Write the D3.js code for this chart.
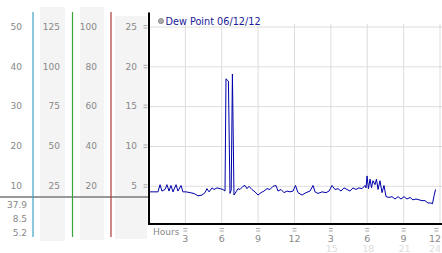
<!DOCTYPE html>
<html>
<head>
<meta charset="utf-8">
<script src="https://cdn.jsdelivr.net/npm/d3@7"></script>
<style>
  body { margin: 0; background: #fff; }
  svg { display: block; font-family: "DejaVu Sans", Verdana, sans-serif; }
</style>
</head>
<body>
<svg id="drawing_region"></svg>
<script>

// hours since midnight and dew point readings
const hours = [0, 0.74, 0.91, 1.07, 1.32, 1.48, 1.65, 1.81, 1.98, 2.23, 2.39, 2.64, 2.80, 3.05, 3.38, 3.71,
    4.04, 4.37, 4.62, 4.78, 4.95, 5.20, 5.36, 5.61, 5.86, 6.10, 6.27, 6.35, 6.55, 6.68, 6.78, 6.88, 7.01,
    7.18, 7.34, 7.51, 7.75, 7.92, 8.08, 8.25, 8.49, 8.74, 8.99, 9.24, 9.48, 9.73, 9.98, 10.23, 10.47,
    10.64, 10.89, 11.13, 11.38, 11.63, 11.88, 12.08, 12.29, 12.62, 12.95, 13.28, 13.53, 13.69, 13.94,
    14.27, 14.60, 14.85, 15.09, 15.34, 15.59, 15.84, 16.08, 16.33, 16.58, 16.82, 17.07, 17.32, 17.57,
    17.81, 17.90, 17.98, 18.10, 18.23, 18.35, 18.47, 18.64, 18.76, 18.89, 19.05, 19.22, 19.38, 19.55,
    19.79, 20.04, 20.29, 20.54, 20.78, 21.03, 21.28, 21.53, 21.77, 22.02, 22.27, 22.52, 22.76, 23.01,
    23.26, 23.38, 23.51, 23.63];
const dewPoint = [4.3, 4.3, 5.2, 4.4, 4.6, 5.2, 4.4, 5.1, 4.3, 5.2, 4.4, 5.1, 4.3, 4.3, 4.2, 4.1,
    3.8, 3.9, 4.2, 4.7, 4.3, 4.8, 4.6, 4.8, 4.7, 4.6, 4.4, 18.5, 18.2, 4.1, 4.5, 19.1, 3.9,
    4.3, 4.7, 4.6, 5.0, 5.1, 4.7, 5.0, 4.6, 4.3, 3.9, 4.2, 4.4, 4.7, 4.6, 5.0, 5.1,
    4.4, 4.6, 4.2, 4.4, 4.3, 4.4, 5.1, 4.2, 3.9, 4.2, 4.4, 5.1, 4.3, 4.1,
    4.3, 4.2, 4.4, 5.1, 4.6, 4.7, 4.4, 4.8, 4.6, 4.4, 4.8, 4.6, 4.8, 4.7,
    5.1, 4.8, 6.3, 4.7, 5.9, 4.8, 5.7, 5.2, 5.9, 4.6, 5.7, 4.2, 5.1, 3.7,
    3.6, 3.7, 3.4, 3.7, 3.4, 3.7, 3.4, 3.6, 3.3, 3.4, 3.3, 3.2, 3.2, 2.9,
    2.9, 2.8, 3.8, 4.6];

// left hand scale columns
const col1Ticks = [50, 40, 30, 20, 10];
const col2Ticks = [125, 100, 75, 50, 25];
const col3Ticks = [100, 80, 60, 40, 20];
const col4Ticks = [25, 20, 15, 10, 5];
const summaryValues = ["37.9", "8.5", "5.2"];

// bottom axis
const hourTicks = [3, 6, 9, 12, 15, 18, 21, 24];
const hourLabels = ["3", "6", "9", "12", "3", "6", "9", "12"];
const hourLabels2 = ["", "", "", "", "15", "18", "21", "24"];

const legendText = "Dew Point 06/12/12";

const W = 442, H = 253;
const plotLeft = 149, plotRight = 440, axisY = 224;

const svg = d3.select('#drawing_region')
    .attr('width', W)
    .attr('height', H);

const xscale = d3.scaleLinear().domain([0, 24]).range([plotLeft, plotRight]);
const yscale = d3.scaleLinear().domain([0, 27]).range([226.1, 11.1]);

// each column uses same pixel range with its own units
const colScales = [
    d3.scaleLinear().domain([0, 54]).range(yscale.range()),
    d3.scaleLinear().domain([0, 135]).range(yscale.range()),
    d3.scaleLinear().domain([0, 108]).range(yscale.range()),
    yscale
];

// tiny tick marker (two short dashes)
function marker(g, cx, cy) {
    [-1.5, 1].forEach(dy => {
        g.append('rect')
            .attr('x', cx - 2).attr('y', cy + dy - 0.5)
            .attr('width', 4).attr('height', 1)
            .attr('fill', '#aaa');
    });
}

// background strips
[[40, 65, 7, 241], [80, 104, 7, 240], [115, 147, 16, 239]].forEach(r => {
    svg.append('rect')
        .attr('x', r[0]).attr('y', r[2])
        .attr('width', r[1] - r[0]).attr('height', r[3] - r[2])
        .attr('fill', '#f4f4f4');
});

// column labels
const cols = [
    {ticks: col1Ticks, x: 22},
    {ticks: col2Ticks, x: 60},
    {ticks: col3Ticks, x: 97},
    {ticks: col4Ticks, x: 137}
];
cols.forEach((c, i) => {
    svg.append('g').selectAll('text').data(c.ticks).enter()
        .append('text')
        .attr('x', c.x)
        .attr('y', d => colScales[i](d) + 2.8)
        .attr('text-anchor', 'end')
        .attr('font-size', 9)
        .attr('fill', '#888')
        .text(d => d);
});

// markers beside the plot
const markL = svg.append('g');
col4Ticks.forEach(d => marker(markL, 145.5, yscale(d)));

// grid
svg.append('g').selectAll('line').data(col4Ticks).enter()
    .append('line')
    .attr('x1', plotLeft).attr('x2', W)
    .attr('y1', d => yscale(d)).attr('y2', d => yscale(d))
    .attr('stroke', '#ddd');

svg.append('g').selectAll('line').data(hourTicks).enter()
    .append('line')
    .attr('x1', d => xscale(d)).attr('x2', d => xscale(d))
    .attr('y1', 24).attr('y2', axisY)
    .attr('stroke', '#ddd');

// divider under the columns
svg.append('line')
    .attr('x1', 0).attr('x2', plotLeft)
    .attr('y1', 197).attr('y2', 197)
    .attr('stroke', '#999').attr('stroke-width', 2);

// coloured column rules
[[33, '#3ba3c7'], [72.5, '#3aa33a'], [111, '#b03a3a']].forEach(v => {
    svg.append('line')
        .attr('x1', v[0]).attr('x2', v[0])
        .attr('y1', 12).attr('y2', 237)
        .attr('stroke', v[1]).attr('stroke-width', 1.2);
});

svg.append('g').selectAll('text').data(summaryValues).enter()
    .append('text')
    .attr('x', 27)
    .attr('y', (d, i) => 207.5 + i * 14)
    .attr('text-anchor', 'end')
    .attr('font-size', 9)
    .attr('fill', '#888')
    .text(d => d);

// data line
const line = d3.line()
    .x((d, i) => xscale(hours[i]))
    .y(d => yscale(d));

svg.append('path')
    .datum(dewPoint)
    .attr('d', line)
    .attr('fill', 'none')
    .attr('stroke', '#0000aa')
    .attr('stroke-width', 1);

// axes
svg.append('line')
    .attr('x1', plotLeft).attr('x2', plotLeft)
    .attr('y1', 12.5).attr('y2', axisY + 1)
    .attr('stroke', '#000').attr('stroke-width', 2);
svg.append('line')
    .attr('x1', plotLeft).attr('x2', W)
    .attr('y1', axisY).attr('y2', axisY)
    .attr('stroke', '#000').attr('stroke-width', 2);

// bottom labels
svg.append('text')
    .attr('x', 153).attr('y', 234.5)
    .attr('font-size', 9).attr('fill', '#888')
    .text('Hours');

const last = hourTicks.length - 1;
const markB = svg.append('g');
hourTicks.forEach(d => marker(markB, Math.min(xscale(d), 436.5), 230));

svg.append('g').selectAll('text').data(hourTicks).enter()
    .append('text')
    .attr('x', (d, i) => i === last ? W - 1 : xscale(d))
    .attr('y', 241.5)
    .attr('text-anchor', (d, i) => i === last ? 'end' : 'middle')
    .attr('font-size', 9.5).attr('fill', '#888')
    .text((d, i) => hourLabels[i]);
svg.append('g').selectAll('text').data(hourTicks).enter()
    .append('text')
    .attr('x', (d, i) => i === last ? W - 1 : xscale(d) + 1)
    .attr('y', 252)
    .attr('text-anchor', (d, i) => i === last ? 'end' : 'middle')
    .attr('font-size', 9.5).attr('fill', '#ddd')
    .text((d, i) => hourLabels2[i]);

// legend
svg.append('circle')
    .attr('cx', 161).attr('cy', 21).attr('r', 2.6)
    .attr('fill', '#aaa').attr('stroke', '#888').attr('stroke-width', 0.8);
svg.append('text')
    .attr('x', 165.5).attr('y', 24.5)
    .attr('font-size', 9.7).attr('fill', '#1a1a9a')
    .text(legendText);

</script>
</body>
</html>
